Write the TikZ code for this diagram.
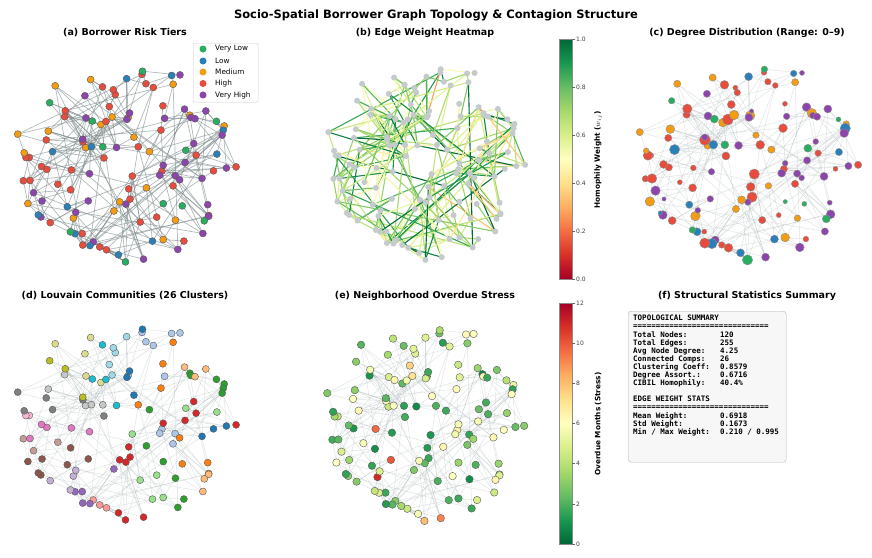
\documentclass[tikz,border=0pt]{standalone}
\usepackage{fontspec}
\setmainfont{DejaVu Sans}
\setmonofont{DejaVu Sans Mono}
\definecolor{cat0}{HTML}{27AE60}
\definecolor{cat1}{HTML}{2980B9}
\definecolor{cat2}{HTML}{F39C12}
\definecolor{cat3}{HTML}{E74C3C}
\definecolor{cat4}{HTML}{8E44AD}
\definecolor{rg0}{HTML}{A50026}
\definecolor{rg1}{HTML}{D73027}
\definecolor{rg2}{HTML}{F46D43}
\definecolor{rg3}{HTML}{FDAE61}
\definecolor{rg4}{HTML}{FEE08B}
\definecolor{rg5}{HTML}{FFFFBF}
\definecolor{rg6}{HTML}{D9EF8B}
\definecolor{rg7}{HTML}{A6D96A}
\definecolor{rg8}{HTML}{66BD63}
\definecolor{rg9}{HTML}{1A9850}
\definecolor{rg10}{HTML}{006837}
\definecolor{tab0}{HTML}{1F77B4}
\definecolor{tab1}{HTML}{AEC7E8}
\definecolor{tab2}{HTML}{FF7F0E}
\definecolor{tab3}{HTML}{FFBB78}
\definecolor{tab4}{HTML}{2CA02C}
\definecolor{tab5}{HTML}{98DF8A}
\definecolor{tab6}{HTML}{D62728}
\definecolor{tab7}{HTML}{FF9896}
\definecolor{tab8}{HTML}{9467BD}
\definecolor{tab9}{HTML}{C5B0D5}
\definecolor{tab10}{HTML}{8C564B}
\definecolor{tab11}{HTML}{C49C94}
\definecolor{tab12}{HTML}{E377C2}
\definecolor{tab13}{HTML}{F7B6D2}
\definecolor{tab14}{HTML}{7F7F7F}
\definecolor{tab15}{HTML}{C7C7C7}
\definecolor{tab16}{HTML}{BCBD22}
\definecolor{tab17}{HTML}{DBDB8D}
\definecolor{tab18}{HTML}{17BECF}
\definecolor{tab19}{HTML}{9EDAE5}
\definecolor{edgegray}{HTML}{7F8C8D}
\definecolor{faintgray}{HTML}{AAB7B8}
\definecolor{nodegray}{HTML}{C5CACD}
\newcommand\mkcoords[5]{%
  \foreach \i in {1,...,120}{%
    \edef\gX{\csname npx\i\endcsname}\edef\gY{\csname npy\i\endcsname}%
    \coordinate (#1\i) at ({#2+#4*(\gX)},{#3+#5*(\gY)});}}
\newcommand\mkedges[2]{%
  \foreach \e in {1,...,255}{%
    \edef\eS{\csname esrc\e\endcsname}\edef\eT{\csname etgt\e\endcsname}%
    \draw[#2] (#1\eS) -- (#1\eT);}}
\newcommand\setmapcolor[2]{%
  \pgfmathtruncatemacro\mk{min(int((#2)*10),9)}%
  \pgfmathtruncatemacro\mkk{\mk+1}%
  \pgfmathtruncatemacro\mf{100-round(((#2)*10-\mk)*100)}%
  \colorlet{#1}{rg\mk!\mf!rg\mkk}}
\tikzset{
  paneltitle/.style={font=\bfseries\fontsize{9.5}{11}\selectfont},
  edgeA/.style={draw=edgegray, opacity=.6, line width=.7pt},
  edgeF/.style={draw=faintgray, opacity=.35, line width=.5pt},
  riskdot/.style={circle, inner sep=0pt, minimum size=7pt, draw=black!65, line width=.4pt},
  ticklab/.style={font=\fontsize{6}{7}\selectfont, text=black!75, anchor=west, inner sep=1pt},
  cbarlab/.style={font=\bfseries\fontsize{7.3}{9}\selectfont, rotate=90},
  legtext/.style={font=\fontsize{7.3}{8}\selectfont, anchor=west, inner sep=0pt},
  monotext/.style={font=\ttfamily\bfseries\fontsize{7.5}{8.1}\selectfont, align=left, anchor=north west, inner sep=0pt}
}
\begin{document}
\begin{tikzpicture}[x=1pt,y=-1pt]
\fill[white] (0,0) rectangle (872,557);
\useasboundingbox (0,0) rectangle (872,557);
% ---------- generate layout ----------
\pgfmathsetseed{2024}
\foreach \i in {1,...,120}{%
  \pgfmathsetmacro\ang{\i*3+rnd*7}%
  \pgfmathsetmacro\rad{sqrt(0.02+0.98*rnd)}%
  \pgfmathsetmacro\px{\rad*cos(\ang)}%
  \pgfmathsetmacro\py{\rad*sin(\ang)}%
  \pgfmathsetmacro\u{rnd}%
  \pgfmathtruncatemacro\cat{(\u>=0.1)+(\u>=0.18)+(\u>=0.32)+(\u>=0.68)}%
  \pgfmathtruncatemacro\com{mod(int((\i-1)/4.6+rnd*1.6),20)}%
  \pgfmathsetmacro\ua{rnd}%
  \pgfmathsetmacro\ub{rnd}%
  \pgfmathsetmacro\st{min(1,0.04+0.5*pow(\ua,0.9)+(\ub<0.1)*0.42)}%
  \expandafter\xdef\csname npx\i\endcsname{\px}%
  \expandafter\xdef\csname npy\i\endcsname{\py}%
  \expandafter\xdef\csname ncat\i\endcsname{\cat}%
  \expandafter\xdef\csname ncom\i\endcsname{\com}%
  \expandafter\xdef\csname nst\i\endcsname{\st}%
  \expandafter\xdef\csname ndeg\i\endcsname{0}%
}
\foreach \e in {1,...,255}{%
  \pgfmathtruncatemacro\s{int(rnd*120)+1}%
  \pgfmathsetmacro\v{rnd}%
  \pgfmathsetmacro\ra{rnd}%
  \pgfmathtruncatemacro\off{\v<0.6 ? 1+int(\ra*6) : 6+int(\ra*40)}%
  \pgfmathtruncatemacro\t{mod(\s+\off-1,120)+1}%
  \pgfmathsetmacro\wa{rnd}\pgfmathsetmacro\wb{rnd}\pgfmathsetmacro\wc{rnd}%
  \pgfmathsetmacro\w{max(0.21,min(0.995,0.69+0.34*(\wa+\wb+\wc-1.5)))}%
  \expandafter\xdef\csname esrc\e\endcsname{\s}%
  \expandafter\xdef\csname etgt\e\endcsname{\t}%
  \expandafter\xdef\csname ewt\e\endcsname{\w}%
  \expandafter\xdef\csname ndeg\s\endcsname{\the\numexpr\csname ndeg\s\endcsname+1\relax}%
  \expandafter\xdef\csname ndeg\t\endcsname{\the\numexpr\csname ndeg\t\endcsname+1\relax}%
}
% ---------- titles ----------
\node[font=\bfseries\fontsize{11.5}{13}\selectfont] (maintitle) at (436,15) {Socio-Spatial Borrower Graph Topology \& Contagion Structure};
\node[paneltitle] (ta) at (125,33) {(a) Borrower Risk Tiers};
\node[paneltitle] (tb) at (425,33) {(b) Edge Weight Heatmap};
\node[paneltitle] (tc) at (747,33) {(c) Degree Distribution (Range: 0–9)};
\node[paneltitle] (td) at (125,296) {(d) Louvain Communities (26 Clusters)};
\node[paneltitle] (te) at (425,296) {(e) Neighborhood Overdue Stress};
\node[paneltitle] (tf) at (747,296) {(f) Structural Statistics Summary};
% ---------- panel a ----------
\mkcoords{a}{125}{162}{112}{100}
\mkedges{a}{edgeA}
\foreach \i in {1,...,120}{\edef\c{\csname ncat\i\endcsname}\node[riskdot, fill=cat\c] (na\i) at (a\i) {};}
\node[draw=black!20, fill=white, rounded corners=2pt, minimum width=65pt, minimum height=59pt, anchor=north west, inner sep=0pt] (legend) at (193,43) {};
\foreach \k/\lab/\yy in {0/Very Low/49, 1/Low/61, 2/Medium/72, 3/High/83.5, 4/Very High/95}{
  \node[circle, inner sep=0pt, minimum size=7pt, fill=cat\k] (lm\k) at (203,\yy) {};
  \node[legtext] (lt\k) at (215,\yy) {\lab};
}
% ---------- panel b ----------
\mkcoords{b}{425}{160}{101}{100}
\foreach \e in {1,...,255}{%
  \edef\eS{\csname esrc\e\endcsname}\edef\eT{\csname etgt\e\endcsname}%
  \setmapcolor{ec}{\csname ewt\e\endcsname}%
  \draw[color=ec, line width=1.1pt] (b\eS) -- (b\eT);}
\foreach \i in {1,...,120}{\node[circle, inner sep=0pt, minimum size=6pt, fill=nodegray] (nb\i) at (b\i) {};}
\foreach \k in {0,...,9}{\pgfmathtruncatemacro\kk{\k+1}
  \shade[bottom color=rg\k, top color=rg\kk] (559,{279-24*\k}) rectangle (572,{279-24*(\k+1)});}
\draw[black!45, line width=.4pt] (559,39) rectangle (572,279);
\foreach \v/\lab in {0/0.0,0.2/0.2,0.4/0.4,0.6/0.6,0.8/0.8,1/1.0}{
  \draw[black!60, line width=.4pt] (572,{279-240*\v}) -- (575,{279-240*\v});
  \node[ticklab] at (575,{279-240*\v}) {\lab};}
\node[cbarlab] (cbl1) at (598,160) {Homophily Weight ($w_{ij}$)};
% ---------- panel c ----------
\mkcoords{c}{747}{160}{112}{100}
\mkedges{c}{edgeF}
\foreach \i in {1,...,120}{\edef\c{\csname ncat\i\endcsname}\edef\dg{\csname ndeg\i\endcsname}%
  \pgfmathsetmacro\dd{4.2+0.75*min(\dg,9)}%
  \node[circle, inner sep=0pt, minimum size=\dd pt, fill=cat\c, draw=black!45, line width=.4pt] (nc\i) at (c\i) {};}
% ---------- panel d ----------
\mkcoords{d}{125}{420}{112}{100}
\mkedges{d}{edgeF}
\foreach \i in {1,...,120}{\edef\c{\csname ncom\i\endcsname}\node[riskdot, fill=tab\c] (nd\i) at (d\i) {};}
% ---------- panel e ----------
\mkcoords{e}{424}{421}{101}{100}
\mkedges{e}{edgeF}
\foreach \i in {1,...,120}{\edef\sv{\csname nst\i\endcsname}\setmapcolor{sc}{1-\sv}%
  \node[riskdot, minimum size=7.5pt, fill=sc] (ne\i) at (e\i) {};}
\foreach \k in {0,...,9}{\pgfmathtruncatemacro\ka{10-\k}\pgfmathtruncatemacro\kb{9-\k}
  \shade[bottom color=rg\ka, top color=rg\kb] (559,{544-24.1*\k}) rectangle (572,{544-24.1*(\k+1)});}
\draw[black!45, line width=.4pt] (559,303) rectangle (572,544);
\foreach \v in {0,2,...,12}{
  \draw[black!60, line width=.4pt] (572,{544-241*\v/12}) -- (575,{544-241*\v/12});
  \node[ticklab] at (575,{544-241*\v/12}) {\v};}
\node[cbarlab] (cbl2) at (598,424) {Overdue Months (Stress)};
% ---------- panel f ----------
\node[draw=black!30, fill=black!3, rounded corners=3pt, minimum width=158pt, minimum height=151pt, anchor=north west, inner sep=0pt] (statbox) at (628,311) {};
\node[monotext] (statl) at (633,315) {\strut TOPOLOGICAL SUMMARY\\==============================\\Total Nodes:\\Total Edges:\\Avg Node Degree:\\Connected Comps:\\Clustering Coeff:\\Degree Assort.:\\CIBIL Homophily:\\\strut\\EDGE WEIGHT STATS\\==============================\\Mean Weight:\\Std Weight:\\Min / Max Weight:};
\node[monotext] (statr) at (720,315) {\strut\\\strut\\120\\255\\4.25\\26\\0.8579\\0.6716\\40.4\%\\\strut\\\strut\\\strut\\0.6918\\0.1673\\0.210 / 0.995};
\end{tikzpicture}
\end{document}
